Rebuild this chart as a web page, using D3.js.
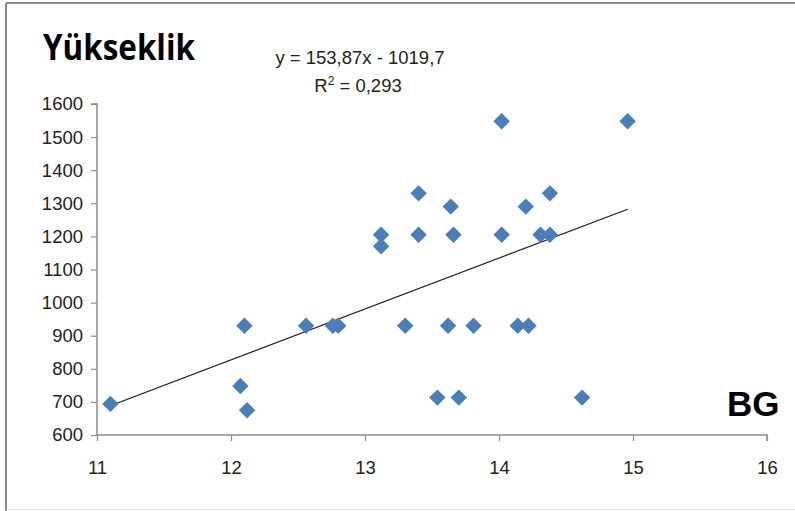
<!DOCTYPE html>
<html>
<head>
<meta charset="utf-8">
<script src="https://cdn.jsdelivr.net/npm/d3@7"></script>
<style>
  body { margin: 0; background: #fff; }
  svg { display: block; }
</style>
</head>
<body>
<svg id="chart" width="795" height="511"></svg>
<script>
// BG values (x) and Yükseklik values (y)
var bgValues = [11.10, 12.07, 12.10, 12.12, 12.56, 12.76, 12.80, 13.12, 13.12, 13.30,
                13.40, 13.40, 13.54, 13.62, 13.64, 13.66, 13.70, 13.81, 14.02, 14.02,
                14.14, 14.22, 14.20, 14.31, 14.38, 14.38, 14.62, 14.96];
var heightValues = [694, 748, 930, 675, 930, 930, 930, 1205, 1170, 930,
                    1330, 1205, 713, 930, 1290, 1205, 713, 930, 1548, 1205,
                    930, 930, 1290, 1205, 1330, 1205, 713, 1548];
var xTicks = [11, 12, 13, 14, 15, 16];
var yTicks = [600, 700, 800, 900, 1000, 1100, 1200, 1300, 1400, 1500, 1600];
var slope = 153.87, intercept = -1019.7;
var equationText = "y = 153,87x - 1019,7";
var r2Value = "0,293";

var svg = d3.select("#chart");
var margin = {left: 97, right: 28, top: 104, bottom: 76};
var width = 795 - margin.left - margin.right,
    height = 511 - margin.top - margin.bottom;

// frame around the chart
svg.append("line").attr("x1", 6).attr("x2", 795).attr("y1", 3).attr("y2", 3)
    .attr("stroke", "#8a8a8a").attr("stroke-width", 2);
svg.append("line").attr("x1", 6).attr("x2", 6).attr("y1", 3).attr("y2", 511)
    .attr("stroke", "#8a8a8a").attr("stroke-width", 2);
svg.append("line").attr("x1", 6).attr("x2", 795).attr("y1", 509.5).attr("y2", 509.5)
    .attr("stroke", "#e6e6e6").attr("stroke-width", 1);

var g = svg.append("g").attr("transform", "translate(" + margin.left + "," + margin.top + ")");

var x = d3.scaleLinear().domain([11, 16]).range([0, width]);
var y = d3.scaleLinear().domain([600, 1600]).range([height, 0]);

var axisX = d3.axisBottom(x).tickValues(xTicks).tickSize(6).tickPadding(20)
    .tickFormat(d3.format("d"));
var axisY = d3.axisLeft(y).tickValues(yTicks).tickSize(6).tickPadding(8)
    .tickFormat(d3.format("d"));

var gx = g.append("g").attr("transform", "translate(0," + height + ")").call(axisX);
var gy = g.append("g").call(axisY);

[gx, gy].forEach(function(ax){
    ax.select(".domain").attr("stroke", "#8c8c8c").attr("stroke-width", 1.5);
    ax.selectAll(".tick line").attr("stroke", "#8c8c8c").attr("stroke-width", 1.2);
    ax.selectAll(".tick text")
        .attr("fill", "#222")
        .style("font-family", "'Liberation Sans', Arial, sans-serif")
        .style("font-size", "18.5px");
});
// y axis domain should not carry the outer tick beyond the plot
gy.select(".domain").attr("d", "M-6,0H0V" + height);
gx.select(".domain").attr("d", "M0,0H" + width + "V6");

// trend line over the data range
var xmin = d3.min(bgValues), xmax = d3.max(bgValues);
g.append("line")
    .attr("x1", x(xmin)).attr("y1", y(slope * xmin + intercept))
    .attr("x2", x(xmax)).attr("y2", y(slope * xmax + intercept))
    .attr("stroke", "#1a1a1a").attr("stroke-width", 1.2);

// diamond markers
var diamond = d3.symbol().type(d3.symbolSquare).size(135);
g.selectAll(".pt")
    .data(bgValues.map(function(d, i){ return {bg: d, h: heightValues[i]}; }))
    .enter().append("path")
    .attr("class", "pt")
    .attr("d", diamond)
    .attr("transform", function(d){
        return "translate(" + x(d.bg) + "," + y(d.h) + ") rotate(45)";
    })
    .attr("fill", "#4a7ebb");

// titles
svg.append("text")
    .attr("x", 43).attr("y", 60)
    .style("font-family", "'Open Sans', sans-serif")
    .style("font-weight", "700")
    .style("font-size", "36px")
    .attr("textLength", 152)
    .attr("lengthAdjust", "spacingAndGlyphs")
    .attr("fill", "#000")
    .text("Yükseklik");

svg.append("text")
    .attr("x", 727).attr("y", 416)
    .style("font-family", "'Liberation Sans', Arial, sans-serif")
    .style("font-weight", "700")
    .style("font-size", "35px")
    .attr("fill", "#000")
    .text("BG");

// regression label
var eq = svg.append("text")
    .attr("text-anchor", "middle")
    .style("font-family", "'Liberation Sans', Arial, sans-serif")
    .style("font-size", "18.5px")
    .attr("fill", "#222");
eq.append("tspan").attr("x", 360).attr("y", 64).text(equationText);
var r2 = eq.append("tspan").attr("x", 358).attr("y", 92);
r2.append("tspan").text("R");
r2.append("tspan").attr("dy", -7).style("font-size", "12px").text("2");
r2.append("tspan").attr("dy", 7).text(" = " + r2Value);
</script>
</body>
</html>
